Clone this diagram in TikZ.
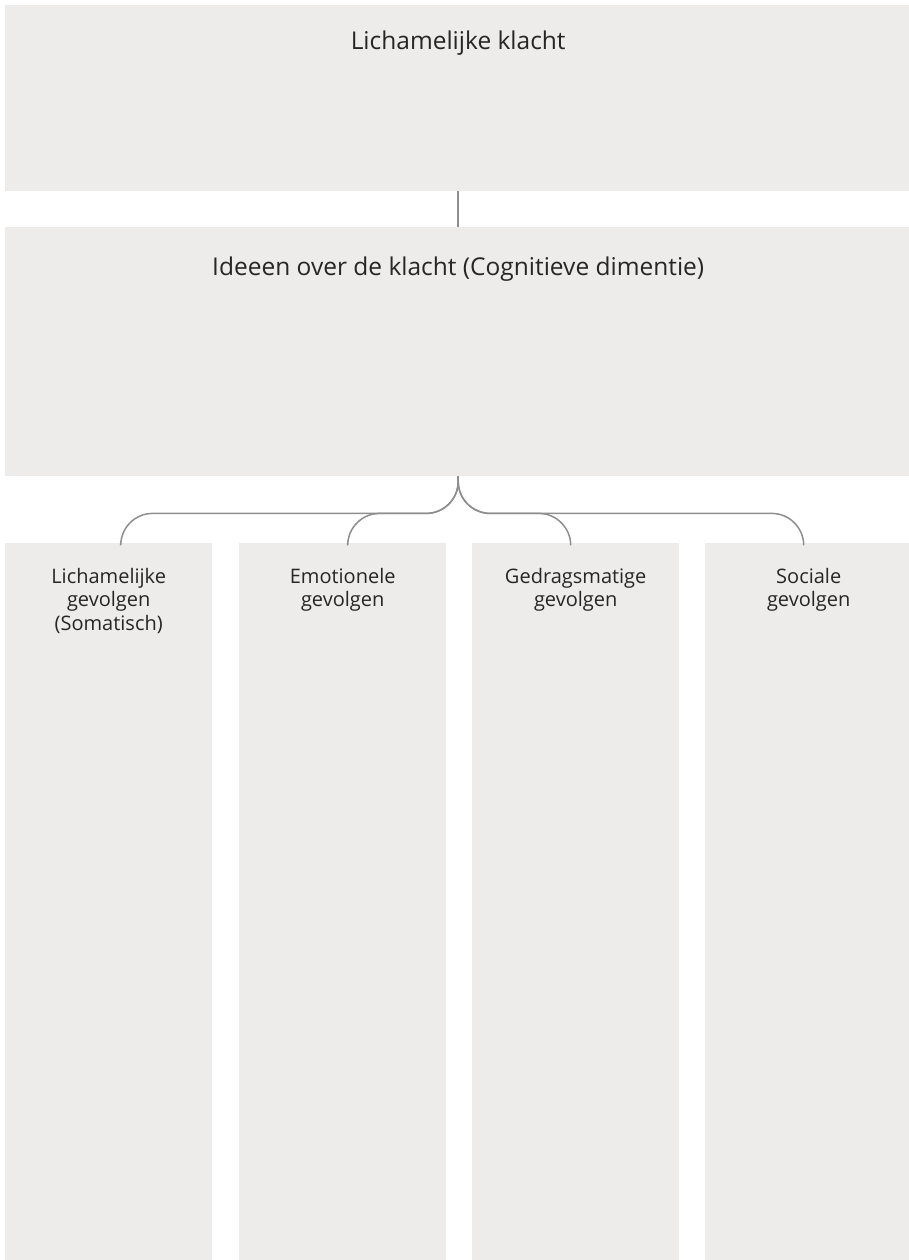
\documentclass[tikz,border=0pt]{standalone}
\usepackage{fontspec}
\setmainfont{Open Sans}
\usetikzlibrary{positioning}
\definecolor{boxgray}{HTML}{EDECEA}
\definecolor{linegray}{HTML}{8E8E8E}
\tikzset{
  panel/.style={fill=boxgray,draw=none,inner sep=0pt,anchor=north west},
  branch/.style={draw=linegray,line width=1.5pt,rounded corners=32pt}
}

\begin{document}
\begin{tikzpicture}[x=1pt, y=-1pt]
            \tikzstyle{title}=[font=\fontsize{24.5}{30}\selectfont,text=black!85,anchor=base,inner sep=0pt]
            \tikzstyle{coltext}=[font=\fontsize{20}{23.5}\selectfont,text=black!85,anchor=north,inner sep=0pt,align=center]
            \useasboundingbox (0,0) rectangle (909,1260);

            \node[panel,minimum width=906pt,minimum height=186pt] (K) at (5,5) {};
            \node[panel,minimum width=906pt,minimum height=249pt] (I) at (5,227) {};
            \node[panel,minimum width=207pt,minimum height=720pt] (C_1) at (5,543) {};
            \node[panel,minimum width=207pt,minimum height=720pt] (C_2) at (239,543) {};
            \node[panel,minimum width=207pt,minimum height=720pt] (C_3) at (472,543) {};
            \node[panel,minimum width=207pt,minimum height=720pt] (C_4) at (705,543) {};

            \node[title] (K_t) at ([yshift=-45pt]K.north) {Lichamelijke klacht};
            \node[title] (I_t) at ([yshift=-48pt]I.north) {Ideeen over de klacht (Cognitieve dimentie)};
            \node[coltext] (C_1t) at ([yshift=-25pt]C_1.north) {Lichamelijke\\gevolgen\\(Somatisch)};
            \node[coltext] (C_2t) at ([yshift=-25pt]C_2.north) {Emotionele\\gevolgen};
            \node[coltext] (C_3t) at ([yshift=-25pt]C_3.north) {Gedragsmatige\\gevolgen};
            \node[coltext] (C_4t) at ([yshift=-25pt]C_4.north) {Sociale\\gevolgen};

            \draw[draw=linegray,line width=1.5pt] (K.south) -- (I.north);
            \draw[branch] (I.south) -- ++(0,37) -| ([xshift=12pt]C_1.north);
            \draw[branch] (I.south) -- ++(0,37) -| ([xshift=5pt]C_2.north);
            \draw[branch] (I.south) -- ++(0,37) -| ([xshift=-5pt]C_3.north);
            \draw[branch] (I.south) -- ++(0,37) -| ([xshift=-5pt]C_4.north);
\end{tikzpicture}
\end{document}
